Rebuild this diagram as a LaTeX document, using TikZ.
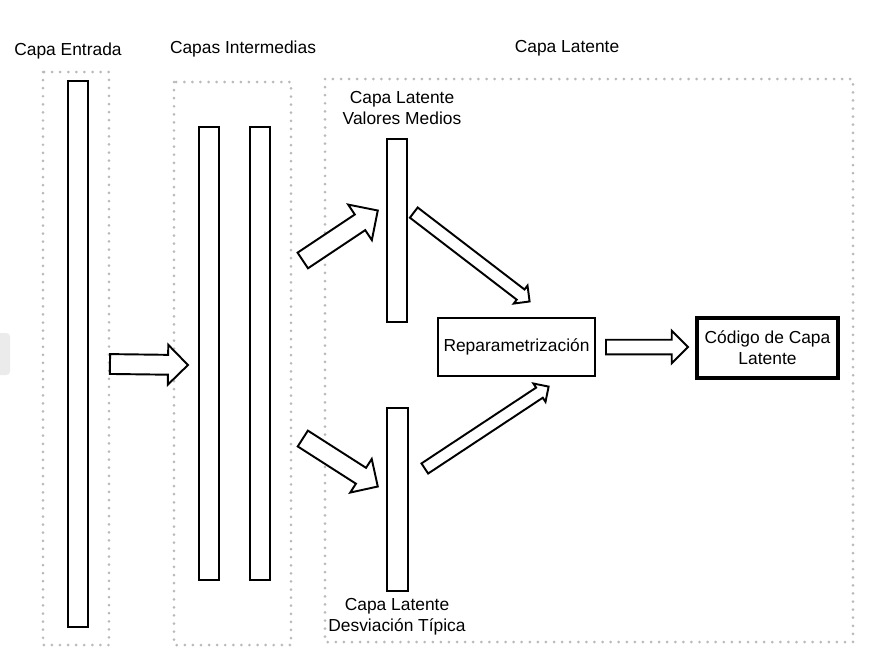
\documentclass[tikz,border=0pt]{standalone}
\usepackage{fontspec}
\setmainfont{Liberation Sans}
\usetikzlibrary{calc,fit,shapes.arrows}
\tikzset{
    dotbox/.style={draw=black!27, line width=1.7pt, line cap=round, dash pattern=on 0pt off 4.6pt},
    bar/.style={draw, line width=1.1pt, inner sep=0pt},
    barrow/.style={draw, line width=1.1pt, single arrow, minimum width=0pt, inner xsep=0pt, fill=white},
    lbl/.style={font=\fontsize{9.9}{12}\selectfont, align=center, inner sep=0pt}
}
\newcommand{\blockarrow}[4]{%
  \path let \p1=($(#2)-(#1)$), \n1={atan2(\y1,\x1)}, \n2={veclen(\x1,\y1)} in
    node[barrow, anchor=tail, rotate=\n1, minimum height=\n2, inner ysep=#3, single arrow head extend=#4] at (#1) {};}

\begin{document}
\begin{tikzpicture}[x=0.02cm, y=-0.02cm]
\useasboundingbox (0,0) rectangle (884,667);
\fill[black!8, rounded corners=2pt] (-6,333) rectangle (10,375);

%dotted groups
\draw[dotbox] (43,72) rectangle (109,645);
\draw[dotbox] (174,82) rectangle (291,645);
\draw[dotbox] (325,79) rectangle (853,642);

\node[lbl] (inlbl) at (68,51) {Capa Entrada};
\node[lbl] (hidlbl) at (243,49) {Capas Intermedias};
\node[lbl] (latlbl) at (567,48) {Capa Latente};

%layers
\node[bar, fit={(68,81) (88,627)}] (inp) {};
\node[bar, fit={(199,127) (219,580)}] (hidA) {};
\node[bar, fit={(250,127) (270,580)}] (hidB) {};
\node[bar, fit={(387,139) (407,322)}] (mu) {};
\node[bar, fit={(387,408) (408,591)}] (sigma) {};
\node[lbl] (mulbl) at (402,108) {Capa Latente\\Valores Medios};
\node[lbl] (sigmalbl) at (397,617) {Capa Latente\\Desviación Típica};

\node[lbl, draw, line width=0.9pt, minimum width=3.14cm, minimum height=1.16cm] (repar) at (516.5,347) {Reparametrización};
\node[lbl, draw, line width=2.3pt, minimum width=2.82cm, minimum height=1.2cm] (code) at (767.5,348) {Código de Capa\\Latente};

%arrows
\coordinate (a1s) at (109,364); \coordinate (a1e) at (187,365);
\coordinate (a2s) at (302,261); \coordinate (a2e) at (377,211);
\coordinate (a3s) at (413,212); \coordinate (a3e) at (529,301);
\coordinate (a4s) at (302,438); \coordinate (a4e) at (377,486);
\coordinate (a5s) at (424,469); \coordinate (a5e) at (548,387);
\coordinate (a6s) at (605,347); \coordinate (a6e) at (687,347);
\blockarrow{a1s}{a1e}{5.1pt}{5.7pt}
\blockarrow{a2s}{a2e}{4.8pt}{6.8pt}
\blockarrow{a3s}{a3e}{3.1pt}{2.8pt}
\blockarrow{a4s}{a4e}{4.8pt}{6pt}
\blockarrow{a5s}{a5e}{2.9pt}{2.8pt}
\blockarrow{a6s}{a6e}{3.6pt}{5.1pt}
\end{tikzpicture}
\end{document}
